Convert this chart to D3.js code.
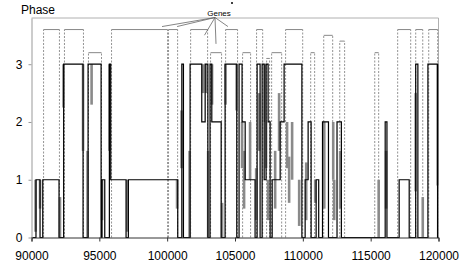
<!DOCTYPE html>
<meta charset="utf-8">
<script src="https://d3js.org/d3.v7.min.js"></script>
<style>
body { margin: 0; background: #fff; }
text { font-family: "Liberation Sans", Arial, sans-serif; }
</style>
<div id="chart"></div>
<script>
// phase changes along the sequence: [position, phase]
var phaseSteps = [
  [90000, 0], [90330, 1], [90630, 0], [90830, 1], [92030, 0], [92370, 3],
  [93800, 0], [94170, 3], [95130, 0], [95200, 1], [95400, 0], [95740, 3],
  [95840, 1], [96970, 0], [97140, 1], [100780, 0], [101080, 3], [101200, 0],
  [101690, 3], [102550, 2], [102800, 3], [103000, 0], [103160, 3], [103290, 2],
  [103980, 0], [104270, 3], [105130, 0], [105300, 3], [105520, 2], [105750, 1],
  [106480, 0], [106630, 3], [106850, 0], [107000, 3], [107150, 1], [107290, 3],
  [107440, 2], [107590, 0], [107740, 1], [108330, 2], [108620, 3], [109930, 0],
  [110170, 1], [110390, 2], [110610, 0], [110980, 1], [111170, 0], [111450, 2],
  [111890, 0], [112520, 2], [112840, 0], [116070, 2], [116200, 0], [117100, 1],
  [117840, 0], [118320, 3], [118480, 0], [119220, 3], [119930, 0], [120000, 0]
];

// grey transition bars: [position, from phase, to phase]
var grayBars = [
  [90300, 0.1, 1], [90630, 0.5, 1], [92100, 0, 0.7], [92360, 2.25, 3],
  [93800, 1.5, 3], [94130, 0, 1.5], [94430, 2.3, 3], [95200, 0.3, 1],
  [95750, 1.5, 3], [97070, 0.1, 1], [100730, 0.5, 1], [101060, 1.2, 2.2],
  [101650, 0, 1.5], [102650, 2.5, 3], [102870, 2.5, 3], [103020, 0, 1.5],
  [103310, 2.3, 3], [104050, 0, 0.6], [104310, 2.3, 3], [105120, 2.2, 3],
  [105520, 1.2, 2], [105670, 0.5, 1.5], [106110, 1, 2], [106560, 0.3, 1.2],
  [106780, 1.5, 2.5], [107220, 2, 3], [107290, 1.2, 2], [107440, 0.3, 1],
  [107960, 0.5, 1.5], [108250, 1.5, 2.5], [108840, 1.2, 2], [108990, 0.6, 1.4],
  [109210, 1, 2], [109730, 0.2, 1], [110250, 0.3, 1.3], [110910, 0.6, 1],
  [111580, 0.5, 2], [112240, 1, 2], [112310, 0.3, 1], [112750, 0.5, 1.5],
  [115590, 0, 1], [116140, 0.5, 1.5], [118320, 0.8, 2.5], [118840, 0, 0.7],
  [119940, 0.9, 3]
];

// genes: [start, end, box height]
var genes = [
  [90890, 92060, 3.6], [92430, 93830, 3.6], [94200, 95160, 3.2],
  [95900, 100030, 3.6], [100100, 100770, 3.6], [101730, 102980, 3.6],
  [103200, 104010, 3.2], [104310, 105190, 3.6], [105560, 106150, 3.2],
  [106590, 107040, 3.6], [107330, 107550, 3.1], [107700, 108440, 3.2],
  [108730, 109990, 3.6], [110580, 110870, 3.2], [111540, 112200, 3.5],
  [112720, 113080, 3.4], [115300, 115590, 3.2], [116990, 117950, 3.6],
  [118320, 118840, 3.6], [119280, 119940, 3.6]
];

// where the "Genes" label points
var geneArrows = [[99620, 3.6], [100730, 3.6], [102750, 3.45], [103600, 3.3], [104480, 3.6]];

var xTicks = [90000, 95000, 100000, 105000, 110000, 115000, 120000];
var yTicks = [0, 1, 2, 3];

var W = 463, H = 273;
var m = {left: 31.5, right: 438.5, top: 18, bottom: 237.5};

var svg = d3.select("#chart").append("svg")
  .attr("width", W)
  .attr("height", H);

var x = d3.scaleLinear().domain([90000, 120000]).range([m.left, m.right]);
var y = d3.scaleLinear().domain([0, 3.8]).range([m.bottom, m.top]);

// frame (top and right)
svg.append("path")
  .attr("d", "M" + m.left + "," + m.top + "H" + m.right + "V" + m.bottom)
  .attr("fill", "none")
  .attr("stroke", "#b0b0b0")
  .attr("stroke-width", 1);

// gene boxes: dotted sides, solid top
var g = svg.append("g");
genes.forEach(function(d) {
  [d[0], d[1]].forEach(function(v) {
    g.append("line")
      .attr("x1", x(v)).attr("x2", x(v))
      .attr("y1", y(0)).attr("y2", y(d[2]))
      .attr("stroke", "#777")
      .attr("stroke-width", 0.8)
      .attr("stroke-dasharray", "2,1.5");
  });
  g.append("line")
    .attr("x1", x(d[0])).attr("x2", x(d[1]))
    .attr("y1", y(d[2])).attr("y2", y(d[2]))
    .attr("stroke", "#888")
    .attr("stroke-width", 1);
});

// grey bars
svg.append("g").selectAll("line")
  .data(grayBars)
  .enter()
  .append("line")
    .attr("x1", function(d) { return x(d[0]); })
    .attr("x2", function(d) { return x(d[0]); })
    .attr("y1", function(d) { return y(d[1]); })
    .attr("y2", function(d) { return y(d[2]); })
    .attr("stroke", "#8a8a8a")
    .attr("stroke-width", 2.6);

// phase line
var line = d3.line()
  .x(function(d) { return x(d[0]); })
  .y(function(d) { return y(d[1]); })
  .curve(d3.curveStepAfter);

svg.append("path")
  .datum(phaseSteps)
  .attr("d", line)
  .attr("fill", "none")
  .attr("stroke", "#000")
  .attr("stroke-width", 1.2);

// axes
var xAxis = svg.append("g")
  .attr("transform", "translate(0," + m.bottom + ")")
  .call(d3.axisBottom(x).tickValues(xTicks).tickSize(4).tickPadding(10).tickFormat(d3.format("d")));
xAxis.select(".domain").attr("stroke", "#333");
xAxis.selectAll(".tick line").attr("stroke", "#333");
xAxis.selectAll("text").attr("font-size", 12).attr("fill", "#000")
  .attr("font-family", "Liberation Sans, Arial, sans-serif");

var yAxis = svg.append("g")
  .attr("transform", "translate(" + m.left + ",0)")
  .call(d3.axisLeft(y).tickValues(yTicks).tickSize(3).tickPadding(6)
    .tickSizeOuter(0).tickFormat(d3.format("d")));
yAxis.select(".domain").attr("stroke", "#999");
yAxis.selectAll(".tick line").attr("stroke", "#999");
yAxis.selectAll("text").attr("font-size", 12).attr("fill", "#000")
  .attr("font-family", "Liberation Sans, Arial, sans-serif");

// titles
svg.append("text")
  .attr("x", 21)
  .attr("y", 13.5)
  .attr("font-size", 12)
  .text("Phase");

var lx = 219, ly = 16;
svg.append("text")
  .attr("x", lx)
  .attr("y", ly)
  .attr("text-anchor", "middle")
  .attr("font-size", 8)
  .text("Genes");

svg.append("circle")
  .attr("cx", 232).attr("cy", 3).attr("r", 1)
  .attr("fill", "#000");

geneArrows.forEach(function(d) {
  svg.append("line")
    .attr("x1", lx - 4).attr("y1", ly + 1.5)
    .attr("x2", x(d[0])).attr("y2", y(d[1]) - 3)
    .attr("stroke", "#666")
    .attr("stroke-width", 0.8);
});
</script>
